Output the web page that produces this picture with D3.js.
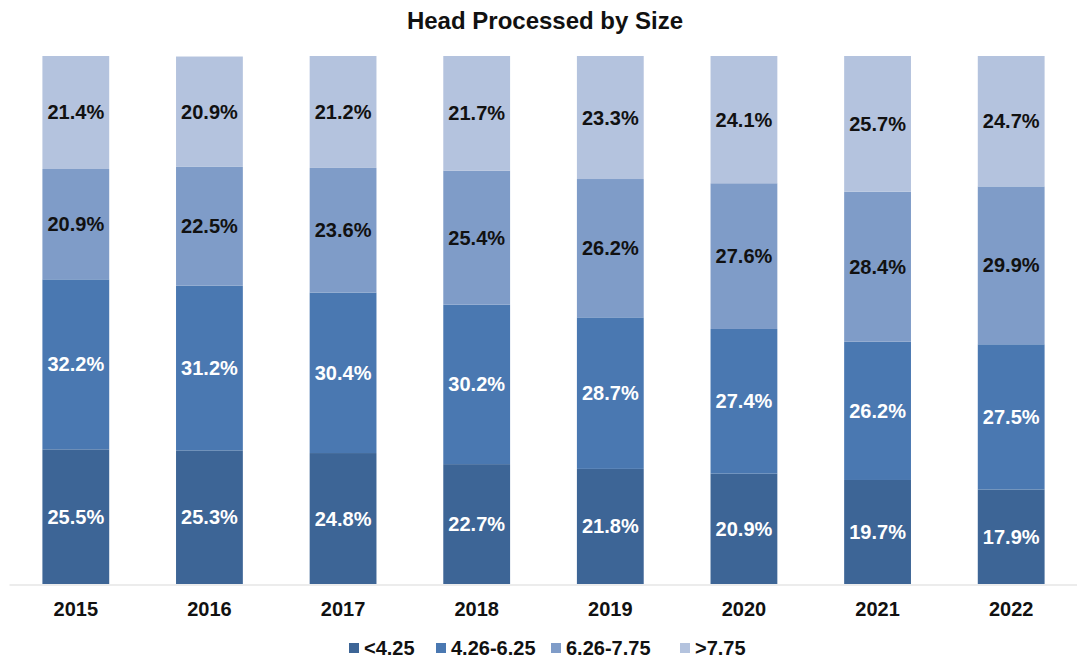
<!DOCTYPE html>
<meta charset="utf-8">
<title>Head Processed by Size</title>
<style>
  body { margin: 0; background: #fff; }
  text { font-family: "Liberation Sans", Arial, sans-serif; font-weight: bold; }
</style>
<body>
<div id="chart"></div>
<script src="https://d3js.org/d3.v7.min.js"></script>
<script>

// data
var years = ["2015", "2016", "2017", "2018", "2019", "2020", "2021", "2022"];
var seriesNames = ["<4.25", "4.26-6.25", "6.26-7.75", ">7.75"];
var under425 = [25.5, 25.3, 24.8, 22.7, 21.8, 20.9, 19.7, 17.9];
var s426to625 = [32.2, 31.2, 30.4, 30.2, 28.7, 27.4, 26.2, 27.5];
var s626to775 = [20.9, 22.5, 23.6, 25.4, 26.2, 27.6, 28.4, 29.9];
var over775 = [21.4, 20.9, 21.2, 21.7, 23.3, 24.1, 25.7, 24.7];

var colors = ["#3d6596", "#4a78b1", "#7f9cc8", "#b4c3de"];
var labelColors = ["#fff", "#fff", "#111", "#111"];

var width = 1077, height = 662;
var margin = {top: 56, right: 0, bottom: 78, left: 9};

var svg = d3.select("#chart").append("svg")
    .attr("width", width)
    .attr("height", height);

// title
svg.append("text")
    .attr("x", 545)
    .attr("y", 29)
    .attr("text-anchor", "middle")
    .style("font-size", "24px")
    .attr("fill", "#111")
    .text("Head Processed by Size");

var rows = years.map(function(y, i) {
  return {year: y, a: under425[i], b: s426to625[i], c: s626to775[i], d: over775[i]};
});
var keys = ["a", "b", "c", "d"];
var stack = d3.stack().keys(keys)(rows);

var x = d3.scaleBand()
    .domain(years)
    .range([margin.left, width - margin.right + 1])
    .paddingInner(0.5)
    .paddingOuter(0.25);

var y = d3.scaleLinear()
    .domain([0, 100])
    .range([height - margin.bottom, margin.top]);

// bars
var layer = svg.selectAll("g.layer")
  .data(stack)
  .enter().append("g")
    .attr("class", "layer")
    .attr("fill", function(d, i) { return colors[i]; });

layer.selectAll("rect")
  .data(function(d) { return d; })
  .enter().append("rect")
    .attr("x", function(d) { return x(d.data.year); })
    .attr("y", function(d) { return y(d[1]); })
    .attr("width", x.bandwidth())
    .attr("height", function(d) { return y(d[0]) - y(d[1]); });

// value labels
stack.forEach(function(s, si) {
  svg.append("g").selectAll("text")
    .data(s)
    .enter().append("text")
      .attr("x", function(d) { return x(d.data.year) + x.bandwidth() / 2; })
      .attr("y", function(d) { return (y(d[0]) + y(d[1])) / 2; })
      .attr("dy", "0.35em")
      .attr("text-anchor", "middle")
      .attr("fill", labelColors[si])
      .style("font-size", "20px")
      .text(function(d) { return (d[1] - d[0]).toFixed(1) + "%"; });
});

// x axis
var xAxis = svg.append("g")
    .attr("transform", "translate(0," + (height - margin.bottom + 0.5) + ")")
    .call(d3.axisBottom(x).tickSize(0).tickPadding(17));
xAxis.select(".domain").attr("stroke", "#d9d9d9");
xAxis.selectAll("text")
    .style("font-size", "20px")
    .style("font-family", "Liberation Sans, Arial, sans-serif")
    .attr("fill", "#111");

// legend
var legendX = [349, 436, 551, 680];
var legend = svg.append("g").selectAll("g")
  .data(seriesNames)
  .enter().append("g")
    .attr("transform", function(d, i) { return "translate(" + legendX[i] + ",648)"; });
legend.append("rect")
    .attr("x", 0).attr("y", -5)
    .attr("width", 10).attr("height", 10)
    .attr("fill", function(d, i) { return colors[i]; });
legend.append("text")
    .attr("x", 15)
    .attr("dy", "0.35em")
    .style("font-size", "20px")
    .attr("fill", "#111")
    .text(function(d) { return d; });

</script>
</body>
